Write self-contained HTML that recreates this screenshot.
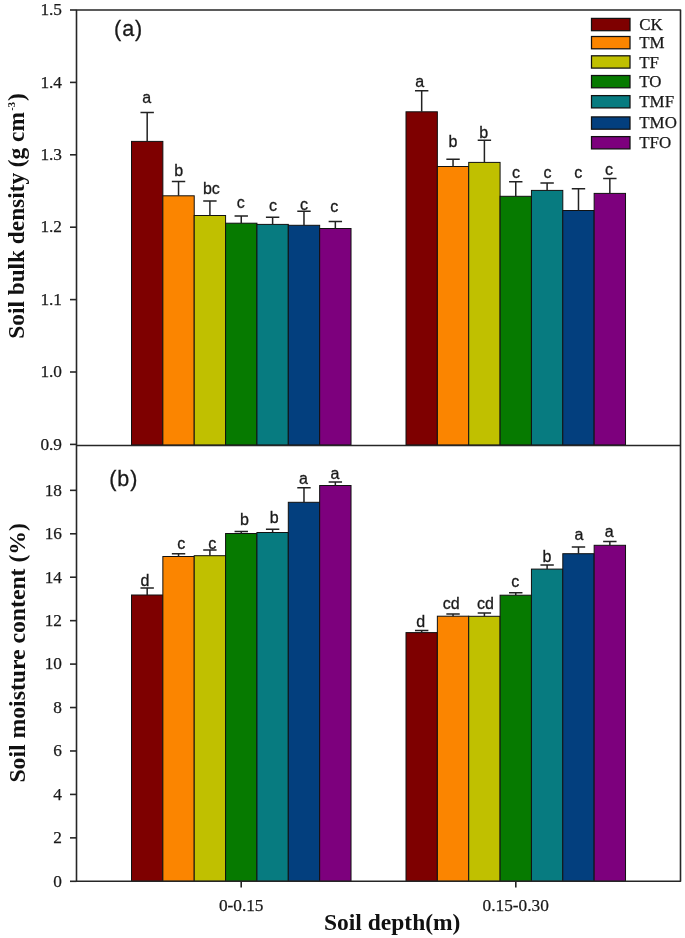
<!DOCTYPE html>
<html><head><meta charset="utf-8"><style>
html,body{margin:0;padding:0;background:#fff;}
svg{display:block;will-change:transform;}
.t{font-family:"Liberation Serif",serif;font-size:17.3px;text-anchor:end;fill:#1a1a1a;stroke:#1a1a1a;stroke-width:0.25px;}
.l{font-family:"Liberation Sans",sans-serif;font-size:16px;text-anchor:middle;fill:#1a1a1a;stroke:#1a1a1a;stroke-width:0.3px;}
.g{font-family:"Liberation Serif",serif;font-size:16.9px;fill:#1a1a1a;stroke:#1a1a1a;stroke-width:0.25px;}
.p{font-family:"Liberation Sans",sans-serif;font-size:21.5px;letter-spacing:1px;fill:#1a1a1a;stroke:#1a1a1a;stroke-width:0.3px;}
.ax{font-family:"Liberation Serif",serif;font-weight:bold;font-size:23.7px;fill:#111;}
</style></head><body>
<svg width="685" height="938" viewBox="0 0 685 938">
<rect width="685" height="938" fill="#fff"/>
<rect x="131.50" y="141.40" width="31.36" height="303.60" fill="#7E0000" stroke="#111" stroke-width="1"/>
<path d="M147.18 141.40V112.60M140.48 112.60H153.88" stroke="#222" stroke-width="1.5" fill="none"/>
<text x="146.73" y="103.45" class="l">a</text>
<rect x="162.86" y="195.80" width="31.36" height="249.20" fill="#FB8500" stroke="#111" stroke-width="1"/>
<path d="M178.54 195.80V181.50M171.84 181.50H185.24" stroke="#222" stroke-width="1.5" fill="none"/>
<text x="178.64" y="176.10" class="l">b</text>
<rect x="194.22" y="215.50" width="31.36" height="229.50" fill="#C0C000" stroke="#111" stroke-width="1"/>
<path d="M209.90 215.50V200.90M203.20 200.90H216.60" stroke="#222" stroke-width="1.5" fill="none"/>
<text x="211.40" y="194.15" class="l">bc</text>
<rect x="225.58" y="223.20" width="31.36" height="221.80" fill="#067A00" stroke="#111" stroke-width="1"/>
<path d="M241.26 223.20V216.10M234.56 216.10H247.96" stroke="#222" stroke-width="1.5" fill="none"/>
<text x="240.66" y="207.70" class="l">c</text>
<rect x="256.94" y="224.40" width="31.36" height="220.60" fill="#077B80" stroke="#111" stroke-width="1"/>
<path d="M272.62 224.40V217.30M265.92 217.30H279.32" stroke="#222" stroke-width="1.5" fill="none"/>
<text x="273.02" y="210.65" class="l">c</text>
<rect x="288.30" y="225.30" width="31.36" height="219.70" fill="#033F7E" stroke="#111" stroke-width="1"/>
<path d="M303.98 225.30V211.20M297.28 211.20H310.68" stroke="#222" stroke-width="1.5" fill="none"/>
<text x="303.98" y="209.95" class="l">c</text>
<rect x="319.66" y="228.50" width="31.36" height="216.50" fill="#7D007D" stroke="#111" stroke-width="1"/>
<path d="M335.34 228.50V221.50M328.64 221.50H342.04" stroke="#222" stroke-width="1.5" fill="none"/>
<text x="334.24" y="212.15" class="l">c</text>
<rect x="406.00" y="111.80" width="31.36" height="333.20" fill="#7E0000" stroke="#111" stroke-width="1"/>
<path d="M421.68 111.80V90.70M414.98 90.70H428.38" stroke="#222" stroke-width="1.5" fill="none"/>
<text x="419.58" y="86.60" class="l">a</text>
<rect x="437.36" y="166.50" width="31.36" height="278.50" fill="#FB8500" stroke="#111" stroke-width="1"/>
<path d="M453.04 166.50V159.30M446.34 159.30H459.74" stroke="#222" stroke-width="1.5" fill="none"/>
<text x="452.84" y="147.10" class="l">b</text>
<rect x="468.72" y="162.40" width="31.36" height="282.60" fill="#C0C000" stroke="#111" stroke-width="1"/>
<path d="M484.40 162.40V140.20M477.70 140.20H491.10" stroke="#222" stroke-width="1.5" fill="none"/>
<text x="483.60" y="137.65" class="l">b</text>
<rect x="500.08" y="196.30" width="31.36" height="248.70" fill="#067A00" stroke="#111" stroke-width="1"/>
<path d="M515.76 196.30V181.70M509.06 181.70H522.46" stroke="#222" stroke-width="1.5" fill="none"/>
<text x="515.96" y="178.05" class="l">c</text>
<rect x="531.44" y="190.40" width="31.36" height="254.60" fill="#077B80" stroke="#111" stroke-width="1"/>
<path d="M547.12 190.40V182.90M540.42 182.90H553.82" stroke="#222" stroke-width="1.5" fill="none"/>
<text x="547.52" y="177.95" class="l">c</text>
<rect x="562.80" y="210.50" width="31.36" height="234.50" fill="#033F7E" stroke="#111" stroke-width="1"/>
<path d="M578.48 210.50V188.80M571.78 188.80H585.18" stroke="#222" stroke-width="1.5" fill="none"/>
<text x="578.18" y="177.55" class="l">c</text>
<rect x="594.16" y="193.40" width="31.36" height="251.60" fill="#7D007D" stroke="#111" stroke-width="1"/>
<path d="M609.84 193.40V178.60M603.14 178.60H616.54" stroke="#222" stroke-width="1.5" fill="none"/>
<text x="608.94" y="174.70" class="l">c</text>
<rect x="131.50" y="595.00" width="31.36" height="286.30" fill="#7E0000" stroke="#111" stroke-width="1"/>
<path d="M147.18 595.00V588.10M140.48 588.10H153.88" stroke="#222" stroke-width="1.5" fill="none"/>
<text x="144.88" y="586.10" class="l">d</text>
<rect x="162.86" y="556.50" width="31.36" height="324.80" fill="#FB8500" stroke="#111" stroke-width="1"/>
<path d="M178.54 556.50V553.70M171.84 553.70H185.24" stroke="#222" stroke-width="1.5" fill="none"/>
<text x="181.24" y="548.95" class="l">c</text>
<rect x="194.22" y="555.70" width="31.36" height="325.60" fill="#C0C000" stroke="#111" stroke-width="1"/>
<path d="M209.90 555.70V550.00M203.20 550.00H216.60" stroke="#222" stroke-width="1.5" fill="none"/>
<text x="212.20" y="548.95" class="l">c</text>
<rect x="225.58" y="533.50" width="31.36" height="347.80" fill="#067A00" stroke="#111" stroke-width="1"/>
<path d="M241.26 533.50V531.40M234.56 531.40H247.96" stroke="#222" stroke-width="1.5" fill="none"/>
<text x="244.56" y="525.10" class="l">b</text>
<rect x="256.94" y="532.50" width="31.36" height="348.80" fill="#077B80" stroke="#111" stroke-width="1"/>
<path d="M272.62 532.50V529.30M265.92 529.30H279.32" stroke="#222" stroke-width="1.5" fill="none"/>
<text x="274.32" y="522.60" class="l">b</text>
<rect x="288.30" y="502.30" width="31.36" height="379.00" fill="#033F7E" stroke="#111" stroke-width="1"/>
<path d="M303.98 502.30V487.80M297.28 487.80H310.68" stroke="#222" stroke-width="1.5" fill="none"/>
<text x="303.38" y="484.20" class="l">a</text>
<rect x="319.66" y="485.50" width="31.36" height="395.80" fill="#7D007D" stroke="#111" stroke-width="1"/>
<path d="M335.34 485.50V482.10M328.64 482.10H342.04" stroke="#222" stroke-width="1.5" fill="none"/>
<text x="334.94" y="478.70" class="l">a</text>
<rect x="406.00" y="632.60" width="31.36" height="248.70" fill="#7E0000" stroke="#111" stroke-width="1"/>
<path d="M421.68 632.60V630.60M414.98 630.60H428.38" stroke="#222" stroke-width="1.5" fill="none"/>
<text x="420.68" y="627.00" class="l">d</text>
<rect x="437.36" y="616.20" width="31.36" height="265.10" fill="#FB8500" stroke="#111" stroke-width="1"/>
<path d="M453.04 616.20V614.10M446.34 614.10H459.74" stroke="#222" stroke-width="1.5" fill="none"/>
<text x="451.14" y="609.25" class="l">cd</text>
<rect x="468.72" y="616.30" width="31.36" height="265.00" fill="#C0C000" stroke="#111" stroke-width="1"/>
<path d="M484.40 616.30V612.90M477.70 612.90H491.10" stroke="#222" stroke-width="1.5" fill="none"/>
<text x="485.40" y="608.65" class="l">cd</text>
<rect x="500.08" y="595.20" width="31.36" height="286.10" fill="#067A00" stroke="#111" stroke-width="1"/>
<path d="M515.76 595.20V592.80M509.06 592.80H522.46" stroke="#222" stroke-width="1.5" fill="none"/>
<text x="515.16" y="587.20" class="l">c</text>
<rect x="531.44" y="569.10" width="31.36" height="312.20" fill="#077B80" stroke="#111" stroke-width="1"/>
<path d="M547.12 569.10V565.00M540.42 565.00H553.82" stroke="#222" stroke-width="1.5" fill="none"/>
<text x="547.02" y="562.05" class="l">b</text>
<rect x="562.80" y="553.70" width="31.36" height="327.60" fill="#033F7E" stroke="#111" stroke-width="1"/>
<path d="M578.48 553.70V547.00M571.78 547.00H585.18" stroke="#222" stroke-width="1.5" fill="none"/>
<text x="578.98" y="540.25" class="l">a</text>
<rect x="594.16" y="545.30" width="31.36" height="336.00" fill="#7D007D" stroke="#111" stroke-width="1"/>
<path d="M609.84 545.30V541.40M603.14 541.40H616.54" stroke="#222" stroke-width="1.5" fill="none"/>
<text x="609.14" y="536.90" class="l">a</text>
<g stroke="#262626" stroke-width="1.6" fill="none" stroke-linejoin="round">
<rect x="76.5" y="10" width="604" height="871.3"/>
<path d="M76.5 445.5H680.5"/>
<path d="M70 10.00H76.5" />
<path d="M70 82.40H76.5" />
<path d="M70 154.80H76.5" />
<path d="M70 227.20H76.5" />
<path d="M70 299.60H76.5" />
<path d="M70 372.00H76.5" />
<path d="M70 444.40H76.5" />
<path d="M70 490.34H76.5" />
<path d="M70 533.78H76.5" />
<path d="M70 577.22H76.5" />
<path d="M70 620.66H76.5" />
<path d="M70 664.10H76.5" />
<path d="M70 707.54H76.5" />
<path d="M70 750.98H76.5" />
<path d="M70 794.42H76.5" />
<path d="M70 837.86H76.5" />
<path d="M70 881.30H76.5" />
<path d="M241.2 881.3V887.5M515.8 881.3V887.5"/>
</g>
<text x="62" y="15.10" class="t">1.5</text>
<text x="62" y="87.50" class="t">1.4</text>
<text x="62" y="159.90" class="t">1.3</text>
<text x="62" y="232.30" class="t">1.2</text>
<text x="62" y="304.70" class="t">1.1</text>
<text x="62" y="377.10" class="t">1.0</text>
<text x="62" y="449.50" class="t">0.9</text>
<text x="62" y="495.64" class="t">18</text>
<text x="62" y="539.08" class="t">16</text>
<text x="62" y="582.52" class="t">14</text>
<text x="62" y="625.96" class="t">12</text>
<text x="62" y="669.40" class="t">10</text>
<text x="62" y="712.84" class="t">8</text>
<text x="62" y="756.28" class="t">6</text>
<text x="62" y="799.72" class="t">4</text>
<text x="62" y="843.16" class="t">2</text>
<text x="62" y="886.60" class="t">0</text>
<rect x="591.5" y="18.40" width="38.5" height="12.3" fill="#7E0000" stroke="#111" stroke-width="1.25"/>
<text x="639.3" y="30.10" class="g">CK</text>
<rect x="591.5" y="36.50" width="38.5" height="12.3" fill="#FB8500" stroke="#111" stroke-width="1.25"/>
<text x="639.3" y="48.20" class="g">TM</text>
<rect x="591.5" y="55.80" width="38.5" height="12.3" fill="#C0C000" stroke="#111" stroke-width="1.25"/>
<text x="639.3" y="67.50" class="g">TF</text>
<rect x="591.5" y="75.50" width="38.5" height="12.3" fill="#067A00" stroke="#111" stroke-width="1.25"/>
<text x="639.3" y="87.20" class="g">TO</text>
<rect x="591.5" y="95.60" width="38.5" height="12.3" fill="#077B80" stroke="#111" stroke-width="1.25"/>
<text x="639.3" y="107.30" class="g">TMF</text>
<rect x="591.5" y="116.90" width="38.5" height="12.3" fill="#033F7E" stroke="#111" stroke-width="1.25"/>
<text x="639.3" y="127.80" class="g">TMO</text>
<rect x="591.5" y="136.60" width="38.5" height="12.3" fill="#7D007D" stroke="#111" stroke-width="1.25"/>
<text x="639.3" y="148.30" class="g">TFO</text>
<text x="114" y="36.3" class="p">(a)</text>
<text x="109.2" y="486.1" class="p">(b)</text>
<text x="241.2" y="911.3" class="t" style="text-anchor:middle">0-0.15</text>
<text x="515.7" y="911.0" class="t" style="text-anchor:middle">0.15-0.30</text>
<text x="324" y="929.5" class="ax" style="font-size:23.5px">Soil depth(m)</text>
<text transform="translate(24.4 338.7) rotate(-90)" class="ax" style="font-size:23.3px">Soil bulk density (g cm<tspan font-size="10.5" dx="1.5" dy="-9">-3</tspan><tspan dx="0.8" dy="9">)</tspan></text>
<text transform="translate(24.6 782.6) rotate(-90)" class="ax">Soil moisture content (%)</text>
</svg>
</body></html>
